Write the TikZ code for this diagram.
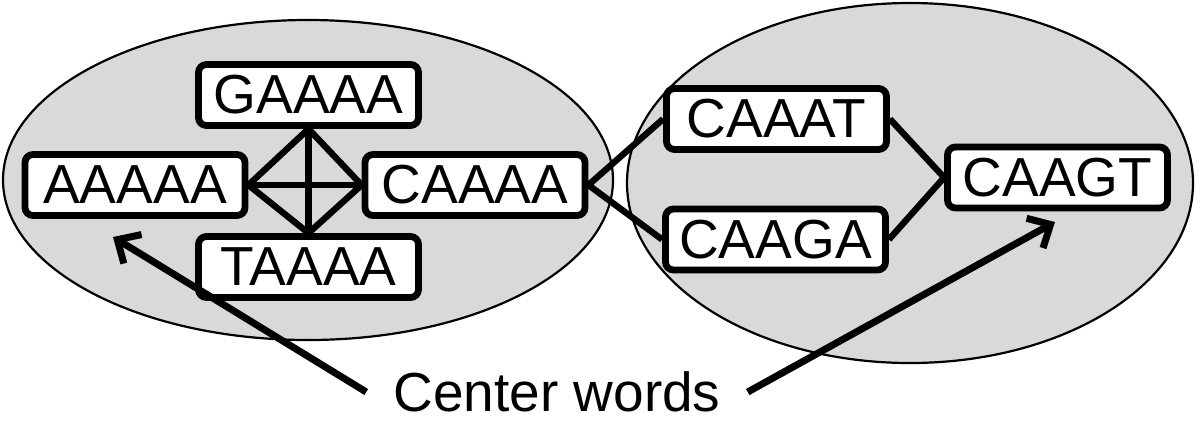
\documentclass[tikz,border=0pt]{standalone}
\usepackage{fontspec}
\setmainfont{Liberation Sans}
\usetikzlibrary{arrows.meta}
\tikzset{
  wbox/.style={draw,fill=white,rounded corners=4pt,line width=3.4pt,
    minimum width=110pt,minimum height=30.5pt,inner sep=0pt,
    font=\fontsize{27.5}{33}\selectfont},
  blob/.style={draw,fill=black!15,line width=1.1pt}
}
\begin{document}
\begin{tikzpicture}[x=0.5pt,y=-0.5pt,line width=3.2pt,>={Straight Barb[length=9pt,width=17pt]}]
	\useasboundingbox (0,0) rectangle (1200,441);
	% the two groups
	\draw[blob] (308,180) ellipse [x radius=152.5pt,y radius=80pt];
	\draw[blob] (910,183) ellipse [x radius=141.5pt,y radius=90pt];
	% words
	\node[wbox] (gaaaa) at (308.5,95) {GAAAA};
	\node[wbox] (aaaaa) at (135,185) {AAAAA};
	\node[wbox] (taaaa) at (308.5,267) {TAAAA};
	\node[wbox] (caaaa) at (475,185) {CAAAA};
	\node[wbox] (caaat) at (776.5,119) {CAAAT};
	\node[wbox] (caaga) at (775.5,239.5) {CAAGA};
	\node[wbox] (caagt) at (1057.5,177.5) {CAAGT};
	% links
	\draw (gaaaa.south)--(taaaa.north);
	\draw (aaaaa.east)--(caaaa.west);
	\draw (aaaaa.east)--(gaaaa.south)--(caaaa.west);
	\draw (aaaaa.east)--(taaaa.north)--(caaaa.west);
	\draw (caaat.west)--(caaaa.east)--(caaga.west);
	\draw (caaat.east)--(caagt.west)--(caaga.east);
	% label and arrows
	\node[font=\fontsize{27.5}{33}\selectfont,inner ysep=0pt,inner xsep=12pt] (cw) at (557,392) {Center words};
	\coordinate (tipl) at (113,237);
	\coordinate (tipr) at (1055,222);
	\draw[->,line width=3.5pt] (cw.west)--(tipl);
	\draw[->,line width=3.5pt] (cw.east)--(tipr);
\end{tikzpicture}
\end{document}
